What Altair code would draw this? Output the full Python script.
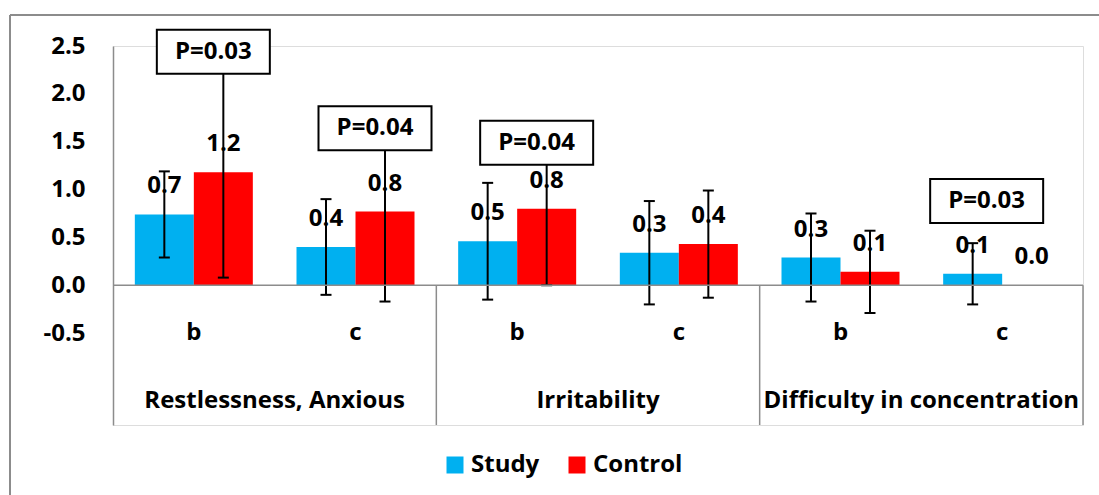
import altair as alt
import pandas as pd

# Symptom groups, each split into the b / c sub-categories
groups = ["Restlessness, Anxious", "Irritability", "Difficulty in concentration"]
subgroups = ["b", "c"]
series = ["Study", "Control"]
colors = ["#00B0F0", "#FF0000"]

# Mean scores and standard deviations, ordered group by group (b, then c)
study_mean = [0.74, 0.40, 0.46, 0.34, 0.29, 0.12]
study_sd = [0.45, 0.50, 0.61, 0.54, 0.46, 0.32]
control_mean = [1.18, 0.77, 0.80, 0.43, 0.14, 0.0]
control_sd = [1.10, 0.94, 0.80, 0.56, 0.43, None]

# Significance call-outs
p_labels = ["P=0.03", "P=0.04", "P=0.04", "P=0.03"]
p_group = ["Restlessness, Anxious", "Restlessness, Anxious", "Irritability",
           "Difficulty in concentration"]
p_sub = ["b", "c", "b", "c"]
p_anchor = ["Control", "Control", "Control", "Study"]
p_y = [2.44, 1.64, 1.49, 0.88]

FONT = "Open Sans"
GRAY = "#8c8c8c"
W, H = 970, 379
BOX_W, BOX_H = 113, 44

keys = [f"{g}|{s}" for g in groups for s in subgroups]

rows = []
for i, k in enumerate(keys):
    g, s = k.split("|")
    for name, m, sd in (("Study", study_mean[i], study_sd[i]),
                        ("Control", control_mean[i], control_sd[i])):
        rows.append({"key": k, "group": g, "sub": s, "series": name, "mean": m,
                     "lo": None if sd is None else m - sd,
                     "hi": None if sd is None else m + sd})
bars_df = pd.DataFrame(rows)
err_df = bars_df.dropna(subset=["lo"])

cats_df = pd.DataFrame({"key": keys, "sub": [k.split("|")[1] for k in keys]})
grp_df = pd.DataFrame({"key": [f"{g}|c" for g in groups], "group": groups})
p_df = pd.DataFrame({"key": [f"{g}|{s}" for g, s in zip(p_group, p_sub)],
                     "series": p_anchor, "label": p_labels, "y": p_y})


def xk(**kw):
    return alt.X("key:N", sort=keys, axis=None,
                 scale=alt.Scale(paddingInner=0, paddingOuter=0), **kw)


xo = alt.XOffset("series:N", sort=series,
                 scale=alt.Scale(paddingInner=0, paddingOuter=0.37))
y_scale = alt.Scale(domain=[-1.46, 2.5], nice=False, zero=False)
text_style = dict(font=FONT, fontSize=24, fontWeight="bold", color="black", baseline="middle")

bars = alt.Chart(bars_df).mark_bar().encode(
    x=xk(),
    xOffset=xo,
    y=alt.Y("mean:Q", scale=y_scale, title=None,
            axis=alt.Axis(values=[-0.5, 0, 0.5, 1, 1.5, 2, 2.5],
                          labelExpr="(datum.value < 0 ? '-' : '') + format(abs(datum.value), '.1f')",
                          ticks=False, grid=False, domainColor=GRAY, domainWidth=1.5,
                          labelPadding=28, labelFont=FONT, labelFontSize=24,
                          labelFontWeight="bold", labelColor="black")),
    color=alt.Color("series:N", sort=series,
                    scale=alt.Scale(domain=series, range=colors),
                    legend=alt.Legend(title=None, orient="none", direction="horizontal",
                                      legendX=330, legendY=407, symbolType="square",
                                      symbolSize=289, symbolStrokeWidth=0,
                                      symbolOpacity=1, labelFont=FONT, labelFontSize=24,
                                      labelFontWeight="bold", labelColor="black",
                                      labelOffset=4, columnPadding=25, padding=0)),
)

values = alt.Chart(bars_df).mark_text(dy=-28, **text_style).encode(
    x=xk(), xOffset=xo, y=alt.Y("mean:Q"), text=alt.Text("mean:Q", format=".1f"))

err = alt.Chart(err_df).mark_rule(color="black", strokeWidth=2).encode(
    x=xk(), xOffset=xo, y="lo:Q", y2="hi:Q")

caps = alt.Chart(err_df).transform_fold(["lo", "hi"], as_=["end", "v"]).mark_tick(
    color="black", size=11, thickness=2, opacity=1
).encode(x=xk(), xOffset=xo, y="v:Q")

zero = alt.Chart(pd.DataFrame({"v": [0]})).mark_rule(
    color=GRAY, strokeWidth=1.5).encode(y="v:Q")

seps = alt.Chart(grp_df).mark_rule(color=GRAY, strokeWidth=1.5).encode(
    x=xk(bandPosition=1), y=alt.datum(0), y2=alt.value(H))

sub_text = alt.Chart(cats_df).mark_text(**text_style).encode(
    x=xk(), y=alt.value(287), text="sub:N")

grp_text = alt.Chart(grp_df).mark_text(**text_style).encode(
    x=xk(bandPosition=0), y=alt.value(355), text="group:N")


def box_path(shift_px):
    # rectangle outline in symbol units (half-width = 1), moved sideways by shift_px
    r = BOX_W / 2
    s = shift_px / r
    h = BOX_H / BOX_W
    return f"M{-1 + s:.4f},{-h:.4f}H{1 + s:.4f}V{h:.4f}H{-1 + s:.4f}Z"


def p_layer(anchor, shift):
    base = alt.Chart(p_df).transform_filter(alt.datum.series == anchor)
    enc = dict(x=xk(), xOffset=xo, y=alt.Y("y:Q"))
    box = base.mark_point(shape=box_path(shift), size=BOX_W ** 2, filled=True,
                          fill="white", stroke="black", strokeWidth=2,
                          opacity=1).encode(**enc)
    txt = base.mark_text(dx=shift, **text_style).encode(text="label:N", **enc)
    return box + txt


frame_v = alt.Chart(pd.DataFrame({"v": [0]})).mark_rule(color=GRAY, strokeWidth=2).encode(
    x=alt.value(-103), y=alt.value(-31), y2=alt.value(495 - 46))
frame_h = alt.Chart(pd.DataFrame({"v": [0]})).mark_rule(color=GRAY, strokeWidth=2).encode(
    x=alt.value(-103), x2=alt.value(1099 - 113), y=alt.value(-31))

chart = alt.layer(
    frame_v, frame_h, bars, values, err, caps, zero, seps, sub_text, grp_text,
    p_layer("Control", -10), p_layer("Study", 14),
).properties(
    width=W, height=H,
    autosize=alt.AutoSizeParams(type="none"),
    padding={"left": 113, "top": 46, "right": 16, "bottom": 70},
).configure_view(strokeWidth=0).configure(background="white")

chart.save("out.html", embed_options={"renderer": "svg", "actions": False})
